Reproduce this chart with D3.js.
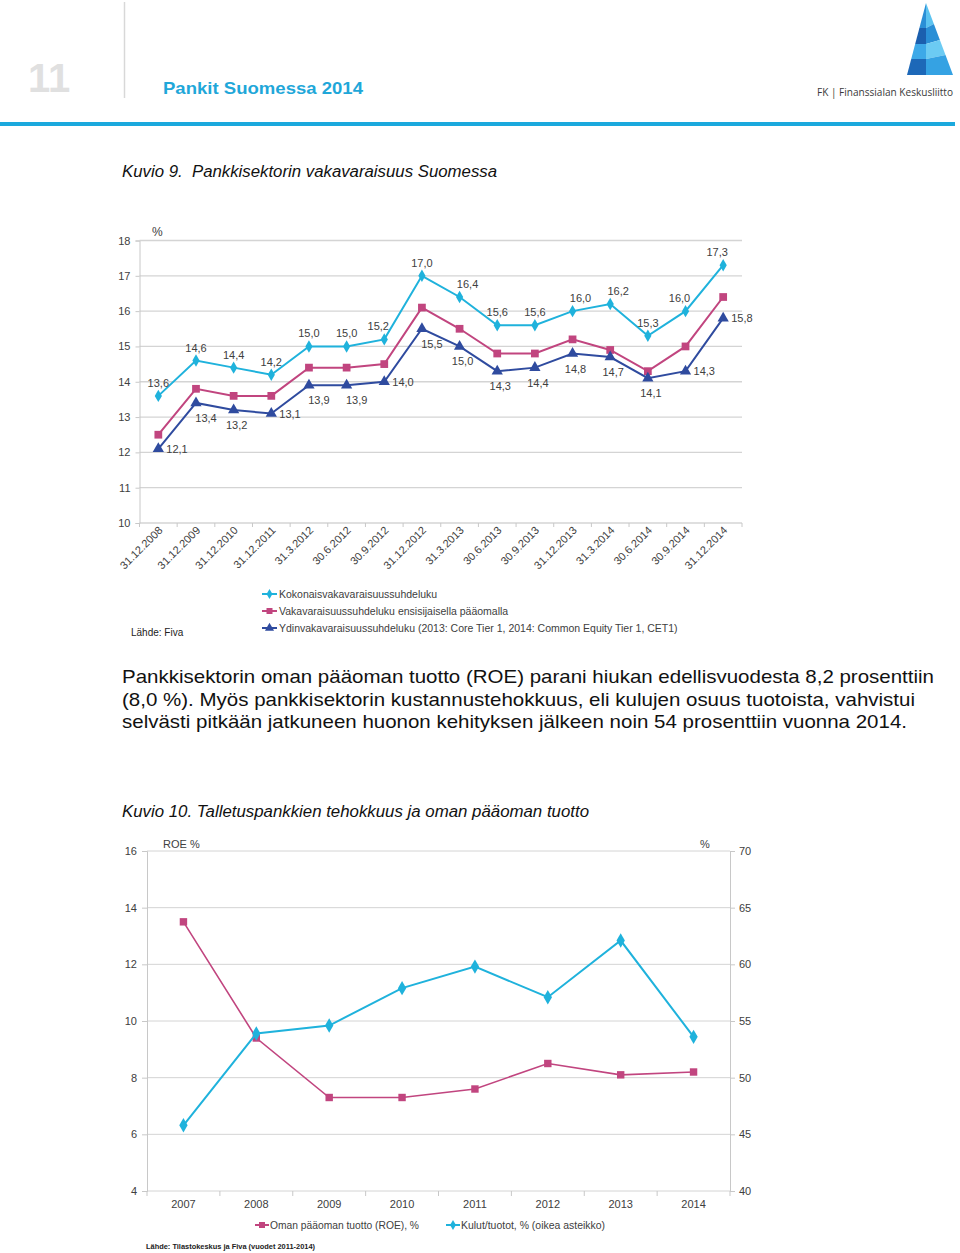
<!DOCTYPE html>
<html><head><meta charset="utf-8">
<script src="https://cdn.jsdelivr.net/npm/d3@7"></script>
<style>
html,body{margin:0;padding:0;background:#fff;}
svg{display:block;font-family:"Liberation Sans",Arial,sans-serif;}
text{white-space:pre;}
</style></head>
<body>
<svg id="page" width="960" height="1253"></svg>
<script>
// ---------- Chart 1 data ----------
const cats1 = ["31.12.2008","31.12.2009","31.12.2010","31.12.2011","31.3.2012","30.6.2012","30.9.2012","31.12.2012","31.3.2013","30.6.2013","30.9.2013","31.12.2013","31.3.2014","30.6.2014","30.9.2014","31.12.2014"];
const totalRatio = [13.6,14.6,14.4,14.2,15.0,15.0,15.2,17.0,16.4,15.6,15.6,16.0,16.2,15.3,16.0,17.3];
const tier1Ratio = [12.5,13.8,13.6,13.6,14.4,14.4,14.5,16.1,15.5,14.8,14.8,15.2,14.9,14.3,15.0,16.4];
const coreRatio  = [12.1,13.4,13.2,13.1,13.9,13.9,14.0,15.5,15.0,14.3,14.4,14.8,14.7,14.1,14.3,15.8];
const yTicks1 = [10,11,12,13,14,15,16,17,18];
const legend1 = ["Kokonaisvakavaraisuussuhdeluku","Vakavaraisuussuhdeluku ensisijaisella pääomalla","Ydinvakavaraisuussuhdeluku (2013: Core Tier 1, 2014: Common Equity Tier 1, CET1)"];

// ---------- Chart 2 data ----------
const years2 = ["2007","2008","2009","2010","2011","2012","2013","2014"];
const roe = [13.5,9.4,7.3,7.3,7.6,8.5,8.1,8.2];
const costIncome = [45.8,53.9,54.6,57.9,59.8,57.1,62.1,53.6];
const yTicksLeft2 = [4,6,8,10,12,14,16];
const yTicksRight2 = [40,45,50,55,60,65,70];
const legend2 = ["Oman pääoman tuotto (ROE), %","Kulut/tuotot, % (oikea asteikko)"];

// label placement (layout only) for chart 1
const totalLabelPos = ["t","t","t","t","t","t","tl","t","tr","t","t","tr","tr","t","tl","tl"];
const coreLabelPos  = ["r","br","b","r","br","br","r","br","b","b","b","b","b","b","r","r"];

const fmt = v => d3.format(".1f")(v).replace(".", ",");

const CYAN = "#1fb2dc", PINK = "#c1457f", BLUE = "#2f4b9f", TXT = "#404040", GRID = "#d4d4d4";
const svg = d3.select("#page");

// ---------- Header ----------
svg.append("text").attr("x",28).attr("y",92).attr("font-size",40).attr("font-weight","bold").attr("fill","#e0e0e0").text("11");
svg.append("line").attr("x1",124.5).attr("x2",124.5).attr("y1",2).attr("y2",98).attr("stroke","#d8d8d8").attr("stroke-width",1.5);
svg.append("text").attr("x",163).attr("y",94).attr("font-size",17).attr("font-weight","bold").attr("fill","#1fa7d9")
  .attr("textLength",200).attr("lengthAdjust","spacingAndGlyphs").text("Pankit Suomessa 2014");
svg.append("rect").attr("x",0).attr("y",122).attr("width",955).attr("height",4).attr("fill","#1ba9dd");

// logo
(function(){
  const ax=926, ay=3, by=75, lx=907, rx=953;
  const L = y => ax + (lx-ax)*(y-ay)/(by-ay);
  const R = y => ax + (rx-ax)*(y-ay)/(by-ay);
  const bands=[[3,28],[28,44],[44,59],[59,75]];
  const leftC=["#2b8fd6","#1b5fae","#3da9e8","#1d68b8"];
  const rightC=["#5cc3f0","#2a8fd6","#6ccbf3","#35a2e3"];
  bands.forEach((b,i)=>{
    const s=4;
    svg.append("polygon").attr("points",[[L(b[0]),b[0]],[ax,b[0]],[ax,b[1]],[L(b[1]),b[1]]].map(p=>p.join(",")).join(" ")).attr("fill",leftC[i]);
    const y0=i===0?b[0]:b[0]-s, y1=i===3?b[1]:b[1]-s;
    svg.append("polygon").attr("points",[[ax,b[0]],[R(y0),y0],[R(y1),y1],[ax,b[1]]].map(p=>p.join(",")).join(" ")).attr("fill",rightC[i]);
  });
  svg.append("text").attr("x",817).attr("y",96).attr("font-size",10.5).attr("fill","#3a3a3a")
    .attr("font-family","'Open Sans','DejaVu Sans',sans-serif").attr("textLength",136).attr("lengthAdjust","spacingAndGlyphs")
    .text("FK | Finanssialan Keskusliitto");
})();

// ---------- Chart 1 ----------
svg.append("text").attr("x",122).attr("y",177).attr("font-size",16).attr("font-style","italic").attr("fill","#111")
  .attr("textLength",375).attr("lengthAdjust","spacingAndGlyphs").text("Kuvio 9.  Pankkisektorin vakavaraisuus Suomessa");

const x1 = d3.scaleBand().domain(cats1).range([139.5,742]).padding(0);
const cx1 = c => x1(c) + x1.bandwidth()/2;
const y1 = d3.scaleLinear().domain([10,18]).range([523,240.5]);

const g1 = svg.append("g");
g1.selectAll(".g1").data(yTicks1).join("line").attr("x1",139.5).attr("x2",742).attr("y1",d=>y1(d)).attr("y2",d=>y1(d))
  .attr("stroke",GRID).attr("stroke-width",1.3);
const yAx1 = g1.append("g").attr("transform","translate(139.5,0)").call(d3.axisLeft(y1).tickValues(yTicks1).tickSize(4).tickPadding(5));
yAx1.select(".domain").attr("stroke","#c8c8c8");
yAx1.selectAll(".tick line").attr("stroke","#c8c8c8");
yAx1.selectAll("text").attr("font-size",11).attr("fill",TXT).attr("font-family","'Liberation Sans',Arial");
g1.selectAll(".bt").data(cats1.concat(["end"])).join("line")
  .attr("x1",(d,i)=>i<cats1.length?x1(d):742).attr("x2",(d,i)=>i<cats1.length?x1(d):742)
  .attr("y1",523).attr("y2",527).attr("stroke","#c8c8c8");
g1.selectAll(".xl").data(cats1).join("text")
  .attr("transform",d=>`translate(${cx1(d)+5},${531}) rotate(-45)`)
  .attr("text-anchor","end").attr("font-size",11).attr("fill",TXT).text(d=>d);
g1.append("text").attr("x",152).attr("y",236).attr("font-size",12).attr("fill",TXT).text("%");

const series1 = [
  {vals: tier1Ratio, color: PINK, shape: d3.symbolSquare, size: 60},
  {vals: coreRatio, color: BLUE, shape: d3.symbolTriangle, size: 55},
  {vals: totalRatio, color: CYAN, shape: d3.symbolDiamond, size: 45},
];
const line1 = d3.line().x((d,i)=>cx1(cats1[i])).y(d=>y1(d));
series1.forEach(s=>{
  g1.append("path").attr("d",line1(s.vals)).attr("fill","none").attr("stroke",s.color).attr("stroke-width",2);
  g1.selectAll(null).data(s.vals).join("path")
    .attr("transform",(d,i)=>`translate(${cx1(cats1[i])},${y1(d)})`)
    .attr("d",d3.symbol().type(s.shape).size(s.size)).attr("fill",s.color);
});
const off = {t:[0,-9,"middle"], tl:[-6,-9,"middle"], tr:[8,-9,"middle"], r:[8,4,"start"], b:[3,19,"middle"], br:[10,19,"middle"]};
g1.selectAll(".lt").data(totalRatio).join("text")
  .attr("x",(d,i)=>cx1(cats1[i])+off[totalLabelPos[i]][0]).attr("y",(d,i)=>y1(d)+off[totalLabelPos[i]][1])
  .attr("text-anchor",(d,i)=>off[totalLabelPos[i]][2]).attr("font-size",11).attr("fill",TXT).text(fmt);
g1.selectAll(".lc").data(coreRatio).join("text")
  .attr("x",(d,i)=>cx1(cats1[i])+off[coreLabelPos[i]][0]).attr("y",(d,i)=>y1(d)+off[coreLabelPos[i]][1])
  .attr("text-anchor",(d,i)=>off[coreLabelPos[i]][2]).attr("font-size",11).attr("fill",TXT).text(fmt);

const legShapes1 = [[CYAN,d3.symbolDiamond,30],[PINK,d3.symbolSquare,36],[BLUE,d3.symbolTriangle,36]];
legend1.forEach((t,i)=>{
  const yy = 594 + i*17;
  g1.append("line").attr("x1",262).attr("x2",277).attr("y1",yy).attr("y2",yy).attr("stroke",legShapes1[i][0]).attr("stroke-width",2);
  g1.append("path").attr("transform",`translate(269.5,${yy})`).attr("d",d3.symbol().type(legShapes1[i][1]).size(legShapes1[i][2])).attr("fill",legShapes1[i][0]);
  g1.append("text").attr("x",279).attr("y",yy+4).attr("font-size",10.5).attr("fill",TXT).text(t);
});
g1.append("text").attr("x",131).attr("y",636).attr("font-size",10).attr("fill","#222").text("Lähde: Fiva");

// ---------- Paragraph ----------
const para = ["Pankkisektorin oman pääoman tuotto (ROE) parani hiukan edellisvuodesta 8,2 prosenttiin",
  "(8,0 %). Myös pankkisektorin kustannustehokkuus, eli kulujen osuus tuotoista, vahvistui",
  "selvästi pitkään jatkuneen huonon kehityksen jälkeen noin 54 prosenttiin vuonna 2014."];
const paraW = [812,793,785];
para.forEach((t,i)=>{
  svg.append("text").attr("x",122).attr("y",683+i*22.5).attr("font-size",19).attr("fill","#111")
    .attr("textLength",paraW[i]).attr("lengthAdjust","spacingAndGlyphs").text(t);
});

// ---------- Chart 2 ----------
svg.append("text").attr("x",122).attr("y",817).attr("font-size",16).attr("font-style","italic").attr("fill","#111")
  .attr("textLength",467).attr("lengthAdjust","spacingAndGlyphs").text("Kuvio 10. Talletuspankkien tehokkuus ja oman pääoman tuotto");

const x2 = d3.scaleBand().domain(years2).range([147,730]).padding(0);
const cx2 = c => x2(c) + x2.bandwidth()/2;
const yL = d3.scaleLinear().domain([4,16]).range([1191,851]);
const yR = d3.scaleLinear().domain([40,70]).range([1191,851]);
const g2 = svg.append("g");
g2.selectAll(".g2").data(yTicksLeft2).join("line").attr("x1",147).attr("x2",730).attr("y1",d=>yL(d)).attr("y2",d=>yL(d))
  .attr("stroke",GRID).attr("stroke-width",1);
const yAxL = g2.append("g").attr("transform","translate(147,0)").call(d3.axisLeft(yL).tickValues(yTicksLeft2).tickSize(5).tickPadding(5));
const yAxR = g2.append("g").attr("transform","translate(730,0)").call(d3.axisRight(yR).tickValues(yTicksRight2).tickSize(5).tickPadding(4));
[yAxL,yAxR].forEach(a=>{
  a.select(".domain").attr("stroke","#c8c8c8");
  a.selectAll(".tick line").attr("stroke","#c8c8c8");
  a.selectAll("text").attr("font-size",11).attr("fill",TXT).attr("font-family","'Liberation Sans',Arial");
});
g2.selectAll(".bt2").data(years2.concat(["end"])).join("line")
  .attr("x1",(d,i)=>i<years2.length?x2(d):730).attr("x2",(d,i)=>i<years2.length?x2(d):730)
  .attr("y1",1191).attr("y2",1196).attr("stroke","#c8c8c8");
g2.selectAll(".xl2").data(years2).join("text").attr("x",d=>cx2(d)).attr("y",1208).attr("text-anchor","middle")
  .attr("font-size",11).attr("fill",TXT).text(d=>d);
g2.append("text").attr("x",163).attr("y",848).attr("font-size",11).attr("fill",TXT).text("ROE %");
g2.append("text").attr("x",700).attr("y",848).attr("font-size",11).attr("fill",TXT).text("%");

const lineL = d3.line().x((d,i)=>cx2(years2[i])).y(d=>yL(d));
const lineR = d3.line().x((d,i)=>cx2(years2[i])).y(d=>yR(d));
g2.append("path").attr("d",lineL(roe)).attr("fill","none").attr("stroke",PINK).attr("stroke-width",1.6);
g2.selectAll(".mr").data(roe).join("path").attr("transform",(d,i)=>`translate(${cx2(years2[i])},${yL(d)})`)
  .attr("d",d3.symbol().type(d3.symbolSquare).size(55)).attr("fill",PINK);
g2.append("path").attr("d",lineR(costIncome)).attr("fill","none").attr("stroke",CYAN).attr("stroke-width",2);
g2.selectAll(".mc").data(costIncome).join("path").attr("transform",(d,i)=>`translate(${cx2(years2[i])},${yR(d)})`)
  .attr("d",d3.symbol().type(d3.symbolDiamond).size(60)).attr("fill",CYAN);

const leg2 = [[255,PINK,d3.symbolSquare,36,149],[446,CYAN,d3.symbolDiamond,30,144]];
legend2.forEach((t,i)=>{
  const xx = leg2[i][0], yy = 1225;
  g2.append("line").attr("x1",xx).attr("x2",xx+14).attr("y1",yy).attr("y2",yy).attr("stroke",leg2[i][1]).attr("stroke-width",2);
  g2.append("path").attr("transform",`translate(${xx+7},${yy})`).attr("d",d3.symbol().type(leg2[i][2]).size(leg2[i][3])).attr("fill",leg2[i][1]);
  g2.append("text").attr("x",xx+15).attr("y",yy+4).attr("font-size",10.5).attr("fill",TXT)
    .attr("textLength",leg2[i][4]).attr("lengthAdjust","spacingAndGlyphs").text(t);
});
g2.append("text").attr("x",146).attr("y",1249).attr("font-size",7.8).attr("fill","#222").attr("font-weight","bold")
  .attr("textLength",169).attr("lengthAdjust","spacingAndGlyphs")
  .text("Lähde: Tilastokeskus ja Fiva (vuodet 2011-2014)");
</script>
</body></html>
